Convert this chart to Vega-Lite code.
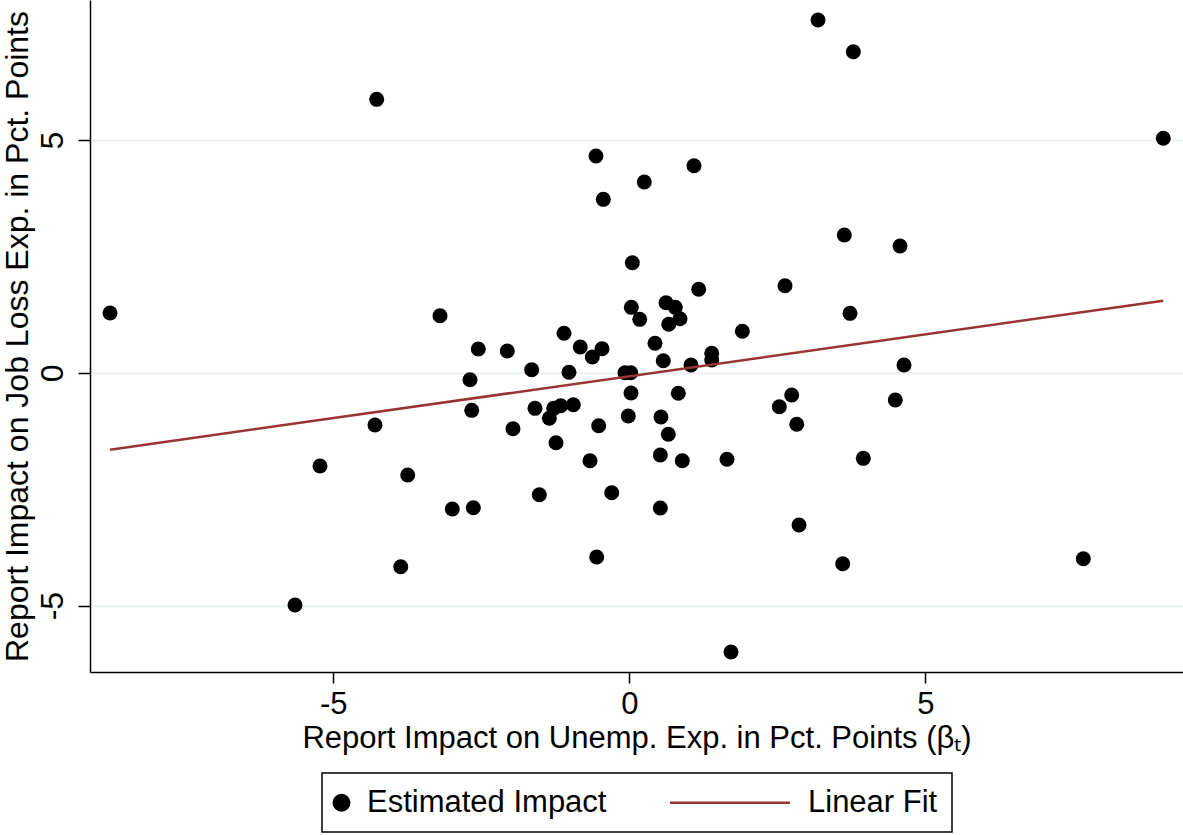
{
  "$schema": "https://vega.github.io/schema/vega-lite/v6.json",
  "width": 1093,
  "height": 672,
  "autosize": {"type": "none"},
  "padding": {"left": 90, "top": 0, "right": 0, "bottom": 163},
  "background": "white",
  "config": {
    "view": {"stroke": null},
    "font": "Liberation Sans"
  },
  "datasets": {
    "pts": [
      {"x": -8.772, "y": 1.285, "series": "Estimated Impact"},
      {"x": -4.267, "y": 5.875, "series": "Estimated Impact"},
      {"x": 3.188, "y": 7.579, "series": "Estimated Impact"},
      {"x": 3.784, "y": 6.898, "series": "Estimated Impact"},
      {"x": 9.020, "y": 5.038, "series": "Estimated Impact"},
      {"x": -0.563, "y": 4.657, "series": "Estimated Impact"},
      {"x": 1.093, "y": 4.449, "series": "Estimated Impact"},
      {"x": 0.253, "y": 4.099, "series": "Estimated Impact"},
      {"x": -0.439, "y": 3.727, "series": "Estimated Impact"},
      {"x": 3.632, "y": 2.960, "series": "Estimated Impact"},
      {"x": 4.573, "y": 2.724, "series": "Estimated Impact"},
      {"x": 0.051, "y": 2.365, "series": "Estimated Impact"},
      {"x": 2.630, "y": 1.871, "series": "Estimated Impact"},
      {"x": 1.172, "y": 1.794, "series": "Estimated Impact"},
      {"x": 0.034, "y": 1.407, "series": "Estimated Impact"},
      {"x": 0.620, "y": 1.506, "series": "Estimated Impact"},
      {"x": 0.777, "y": 1.407, "series": "Estimated Impact"},
      {"x": -3.198, "y": 1.227, "series": "Estimated Impact"},
      {"x": 3.728, "y": 1.278, "series": "Estimated Impact"},
      {"x": 0.176, "y": 1.149, "series": "Estimated Impact"},
      {"x": 0.856, "y": 1.162, "series": "Estimated Impact"},
      {"x": 0.666, "y": 1.042, "series": "Estimated Impact"},
      {"x": -1.103, "y": 0.849, "series": "Estimated Impact"},
      {"x": 1.909, "y": 0.892, "series": "Estimated Impact"},
      {"x": 0.434, "y": 0.634, "series": "Estimated Impact"},
      {"x": -0.828, "y": 0.554, "series": "Estimated Impact"},
      {"x": -2.551, "y": 0.511, "series": "Estimated Impact"},
      {"x": -2.061, "y": 0.468, "series": "Estimated Impact"},
      {"x": -0.461, "y": 0.518, "series": "Estimated Impact"},
      {"x": -0.625, "y": 0.339, "series": "Estimated Impact"},
      {"x": 1.392, "y": 0.419, "series": "Estimated Impact"},
      {"x": 1.392, "y": 0.275, "series": "Estimated Impact"},
      {"x": 0.574, "y": 0.260, "series": "Estimated Impact"},
      {"x": 1.042, "y": 0.168, "series": "Estimated Impact"},
      {"x": -1.649, "y": 0.067, "series": "Estimated Impact"},
      {"x": -1.019, "y": 0.011, "series": "Estimated Impact"},
      {"x": -0.073, "y": 0.002, "series": "Estimated Impact"},
      {"x": 0.024, "y": 0.002, "series": "Estimated Impact"},
      {"x": 4.640, "y": 0.168, "series": "Estimated Impact"},
      {"x": -2.691, "y": -0.148, "series": "Estimated Impact"},
      {"x": 0.029, "y": -0.434, "series": "Estimated Impact"},
      {"x": 0.828, "y": -0.440, "series": "Estimated Impact"},
      {"x": 2.743, "y": -0.477, "series": "Estimated Impact"},
      {"x": 4.493, "y": -0.584, "series": "Estimated Impact"},
      {"x": -4.296, "y": -1.121, "series": "Estimated Impact"},
      {"x": -2.662, "y": -0.806, "series": "Estimated Impact"},
      {"x": -1.593, "y": -0.763, "series": "Estimated Impact"},
      {"x": -1.277, "y": -0.763, "series": "Estimated Impact"},
      {"x": -1.159, "y": -0.707, "series": "Estimated Impact"},
      {"x": -0.946, "y": -0.685, "series": "Estimated Impact"},
      {"x": -1.351, "y": -0.977, "series": "Estimated Impact"},
      {"x": -0.017, "y": -0.928, "series": "Estimated Impact"},
      {"x": 0.535, "y": -0.950, "series": "Estimated Impact"},
      {"x": 2.534, "y": -0.728, "series": "Estimated Impact"},
      {"x": 2.828, "y": -1.106, "series": "Estimated Impact"},
      {"x": -0.517, "y": -1.136, "series": "Estimated Impact"},
      {"x": -1.965, "y": -1.201, "series": "Estimated Impact"},
      {"x": 0.659, "y": -1.321, "series": "Estimated Impact"},
      {"x": -1.238, "y": -1.502, "series": "Estimated Impact"},
      {"x": -3.743, "y": -2.195, "series": "Estimated Impact"},
      {"x": -5.225, "y": -2.002, "series": "Estimated Impact"},
      {"x": 0.524, "y": -1.766, "series": "Estimated Impact"},
      {"x": -0.664, "y": -1.888, "series": "Estimated Impact"},
      {"x": 0.895, "y": -1.888, "series": "Estimated Impact"},
      {"x": 1.650, "y": -1.858, "series": "Estimated Impact"},
      {"x": 3.953, "y": -1.837, "series": "Estimated Impact"},
      {"x": -1.520, "y": -2.619, "series": "Estimated Impact"},
      {"x": -0.297, "y": -2.576, "series": "Estimated Impact"},
      {"x": -2.990, "y": -2.926, "series": "Estimated Impact"},
      {"x": -2.635, "y": -2.898, "series": "Estimated Impact"},
      {"x": 0.524, "y": -2.904, "series": "Estimated Impact"},
      {"x": 2.867, "y": -3.270, "series": "Estimated Impact"},
      {"x": -0.551, "y": -3.957, "series": "Estimated Impact"},
      {"x": -3.861, "y": -4.165, "series": "Estimated Impact"},
      {"x": 3.605, "y": -4.101, "series": "Estimated Impact"},
      {"x": 7.669, "y": -3.994, "series": "Estimated Impact"},
      {"x": -5.647, "y": -4.988, "series": "Estimated Impact"},
      {"x": 1.718, "y": -5.998, "series": "Estimated Impact"}
    ],
    "fit": [
      {"x": -8.772, "y": -1.652, "series": "Linear Fit"},
      {"x": 9.020, "y": 1.549, "series": "Linear Fit"}
    ]
  },
  "encoding": {
    "x": {
      "field": "x", "type": "quantitative",
      "scale": {"domain": [-9.11, 9.353], "nice": false, "zero": false},
      "axis": {
        "values": [-5, 0, 5],
        "labelExpr": "datum.value < 0 ? '-' + abs(datum.value) : '' + datum.value",
        "title": "Report Impact on Unemp. Exp. in Pct. Points (βₜ)",
        "grid": false,
        "domainColor": "black", "domainWidth": 1.5,
        "tickColor": "black", "tickWidth": 1.5, "tickSize": 11,
        "labelFontSize": 31, "labelColor": "black", "labelPadding": 6,
        "labelFont": "Liberation Sans",
        "titleFontSize": 31, "titleColor": "black", "titleFontWeight": "normal",
        "titleFont": "Liberation Sans", "titlePadding": 4
      }
    },
    "y": {
      "field": "y", "type": "quantitative",
      "scale": {"domain": [-6.427, 8.009], "nice": false, "zero": false},
      "axis": {
        "values": [-5, 0, 5],
        "labelExpr": "datum.value < 0 ? '-' + abs(datum.value) : '' + datum.value",
        "title": "Report Impact on Job Loss Exp. in Pct. Points",
        "grid": true, "gridColor": "#e8f0f1", "gridWidth": 2,
        "domainColor": "black", "domainWidth": 1.5,
        "tickColor": "black", "tickWidth": 1.5, "tickSize": 12,
        "labelFontSize": 32, "labelColor": "black", "labelPadding": 9,
        "labelAngle": -90, "labelAlign": "center", "labelBaseline": "bottom",
        "labelFont": "Liberation Sans",
        "titleFontSize": 32, "titleColor": "black", "titleFontWeight": "normal",
        "titleFont": "Liberation Sans", "titlePadding": 2
      }
    },
    "color": {
      "field": "series", "type": "nominal",
      "scale": {"domain": ["Estimated Impact", "Linear Fit"], "range": ["black", "#9a3434"]},
      "legend": {
        "title": null,
        "orient": "none", "legendX": 232, "legendY": 773,
        "direction": "horizontal",
        "strokeColor": "black",
        "fillColor": "white",
        "padding": 14,
        "labelFontSize": 31, "labelColor": "black", "labelFont": "Liberation Sans",
        "labelLimit": 0,
        "symbolSize": 14400, "labelOffset": 18, "symbolOffset": 0,
        "columnPadding": 58,
        "encode": {
          "legend": {"update": {"strokeWidth": {"value": 1.5}}},
          "symbols": {"update": {
            "x": {"signal": "datum.value === 'Linear Fit' ? 60 : 5.5"},
            "size": {"signal": "datum.value === 'Linear Fit' ? 14400 : 240"},
            "shape": {"signal": "datum.value === 'Linear Fit' ? 'stroke' : 'circle'"},
            "stroke": {"signal": "datum.value === 'Linear Fit' ? '#9a3434' : 'transparent'"},
            "strokeWidth": {"value": 2.5},
            "fill": {"signal": "datum.value === 'Linear Fit' ? 'transparent' : 'black'"},
            "opacity": {"value": 1}
          }},
          "labels": {"update": {
            "x": {"signal": "datum.value === 'Linear Fit' ? 138 : 31"}
          }}
        }
      }
    }
  },
  "layer": [
    {
      "data": {"name": "pts"},
      "mark": {"type": "point", "filled": true, "size": 225, "opacity": 1}
    },
    {
      "data": {"name": "fit"},
      "mark": {"type": "line", "strokeWidth": 2.5}
    }
  ]
}
